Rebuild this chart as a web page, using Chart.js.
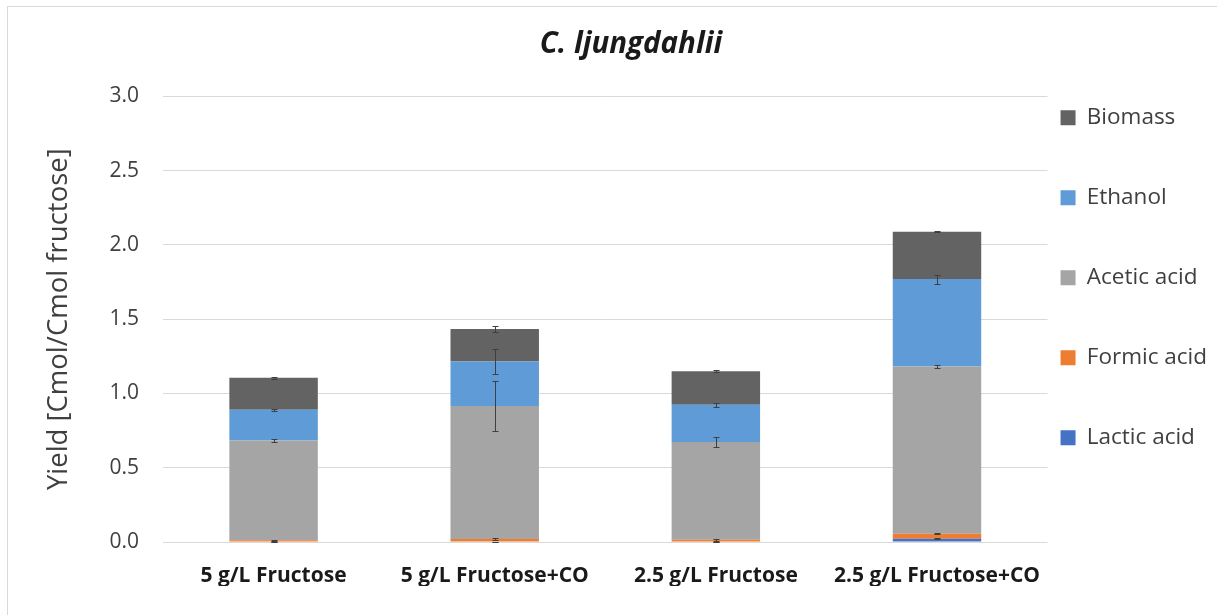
<!DOCTYPE html>
<html>
<head>
<meta charset="utf-8">
<title>C. ljungdahlii yields</title>
<script src="https://cdn.jsdelivr.net/npm/chart.js@4.4.1/dist/chart.umd.min.js"></script>
<style>
  html, body { margin: 0; padding: 0; background: #ffffff; }
  #wrap { position: relative; width: 1217px; height: 615px; overflow: hidden; }
  #frame { position: absolute; left: 7px; top: 6px; width: 1300px; height: 700px;
           border-left: 1px solid #d9d9d9; border-top: 1px solid #d9d9d9; pointer-events: none; }
  canvas { position: absolute; left: 0; top: 0; }
</style>
</head>
<body>
<div id="wrap">
  <canvas id="chart" width="1217" height="615"></canvas>
  <div id="frame"></div>
</div>
<script>
// Culture conditions
const categories = ['5 g/L Fructose', '5 g/L Fructose+CO', '2.5 g/L Fructose', '2.5 g/L Fructose+CO'];

// Product yields [Cmol/Cmol fructose], stacked bottom to top
const lacticAcid = [0.0, 0.0, 0.0, 0.022];
const formicAcid = [0.012, 0.020, 0.015, 0.034];
const aceticAcid = [0.672, 0.895, 0.658, 1.125];
const ethanol    = [0.206, 0.300, 0.251, 0.589];
const biomass    = [0.215, 0.219, 0.226, 0.319];

// Standard deviations, shown at the top of each stacked segment
const lacticErr  = [0.002, 0.002, 0.002, 0.004];
const formicErr  = [0.004, 0.006, 0.005, 0.005];
const aceticErr  = [0.008, 0.167, 0.034, 0.012];
const ethanolErr = [0.005, 0.085, 0.012, 0.030];
const biomassErr = [0.006, 0.022, 0.008, 0.004];

// Value axis ticks
const yTicks = [0.0, 0.5, 1.0, 1.5, 2.0, 2.5, 3.0];

const TEXT = '#404040';

// Error bars drawn through the value scale
const errorBarPlugin = {
  id: 'errorBars',
  afterDatasetsDraw(chart) {
    const { ctx } = chart;
    const yScale = chart.scales.y;
    const running = categories.map(() => 0);
    ctx.save();
    ctx.strokeStyle = '#3f3f3f';
    ctx.lineWidth = 1;
    chart.data.datasets.forEach((ds, di) => {
      const meta = chart.getDatasetMeta(di);
      ds.data.forEach((v, i) => {
        running[i] += v;
        const err = ds.errors[i];
        const x = Math.round(meta.data[i].x) + 0.5;
        const yHi = Math.round(yScale.getPixelForValue(running[i] + err)) + 0.5;
        const yLo = Math.round(yScale.getPixelForValue(running[i] - err)) + 0.5;
        ctx.beginPath();
        ctx.moveTo(x, yHi); ctx.lineTo(x, yLo);
        ctx.moveTo(x - 3, yHi); ctx.lineTo(x + 3, yHi);
        ctx.moveTo(x - 3, yLo); ctx.lineTo(x + 3, yLo);
        ctx.stroke();
      });
    });
    ctx.restore();
  }
};

const series = [
  { label: 'Lactic acid', data: lacticAcid, errors: lacticErr, color: '#4472c4' },
  { label: 'Formic acid', data: formicAcid, errors: formicErr, color: '#ed7d31' },
  { label: 'Acetic acid', data: aceticAcid, errors: aceticErr, color: '#a5a5a5' },
  { label: 'Ethanol',     data: ethanol,    errors: ethanolErr, color: '#5f9bd6' },
  { label: 'Biomass',     data: biomass,    errors: biomassErr, color: '#636363' }
];

new Chart(document.getElementById('chart'), {
  type: 'bar',
  data: {
    labels: categories,
    datasets: series.map(s => ({
      label: s.label,
      data: s.data,
      errors: s.errors,
      backgroundColor: s.color,
      borderWidth: 0,
      barPercentage: 0.4,
      categoryPercentage: 1.0
    }))
  },
  options: {
    responsive: false,
    devicePixelRatio: 1,
    animation: false,
    layout: { padding: { left: 45, right: 0, top: 14, bottom: 29 } },
    plugins: {
      title: {
        display: true,
        text: 'C. ljungdahlii',
        color: '#1a1a1a',
        font: { family: 'Open Sans', size: 29.5, weight: 'bold', style: 'italic', lineHeight: 1.2 },
        padding: { top: 13, bottom: 34 }
      },
      legend: {
        position: 'right',
        align: 'center',
        reverse: true,
        labels: {
          boxWidth: 15,
          boxHeight: 15,
          padding: 13,
          color: TEXT,
          font: { family: 'Open Sans', size: 22.5, lineHeight: '67px' },
          generateLabels(chart) {
            return Chart.defaults.plugins.legend.labels.generateLabels(chart)
              .map(item => Object.assign(item, { text: [item.text] }));
          }
        }
      },
      tooltip: { enabled: false }
    },
    scales: {
      x: {
        stacked: true,
        grid: { display: false, drawTicks: false },
        border: { display: false },
        afterFit(scale) { scale.height = 44; },
        ticks: {
          color: '#1a1a1a',
          padding: 21,
          font: { family: 'Open Sans', size: 21, weight: 'bold' }
        }
      },
      y: {
        stacked: true,
        min: 0,
        max: 3,
        afterBuildTicks(scale) { scale.ticks = yTicks.map(v => ({ value: v })); },
        grid: { color: '#d9d9d9', lineWidth: 1, drawTicks: false },
        border: { display: false },
        ticks: {
          color: TEXT,
          padding: 24,
          font: { family: 'Open Sans', size: 21 },
          callback: v => Number(v).toFixed(1)
        },
        title: {
          display: true,
          text: 'Yield [Cmol/Cmol fructose]',
          color: TEXT,
          font: { family: 'Open Sans', size: 27.5, lineHeight: 1.0 },
          padding: { top: 0, bottom: 13 }
        }
      }
    }
  },
  plugins: [errorBarPlugin]
});
</script>
</body>
</html>
